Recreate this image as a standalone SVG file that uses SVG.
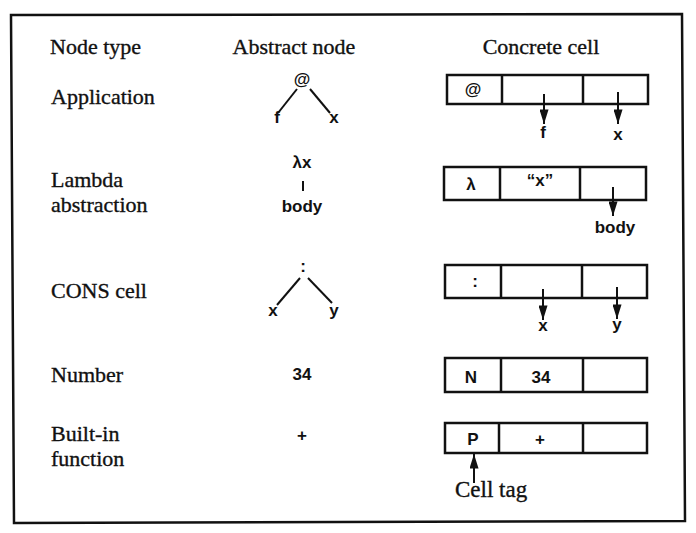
<svg xmlns="http://www.w3.org/2000/svg" width="696" height="533" viewBox="0 0 696 533">
<style>
.serif{font-family:"Liberation Serif","Times New Roman",serif;font-size:22px;fill:#111;stroke:#111;stroke-width:0.35}
.sans{font-family:"Liberation Sans",Arial,sans-serif;font-size:17px;font-weight:bold;fill:#111;text-anchor:middle}
.box{fill:none;stroke:#111;stroke-width:2.5}
.ln{stroke:#111;stroke-width:2;fill:none}
.arr{stroke:#111;stroke-width:2;fill:none;marker-end:url(#ah)}
</style>
<defs>
<marker id="ah" viewBox="0 0 16 10" refX="16" refY="5" markerWidth="15" markerHeight="9" markerUnits="userSpaceOnUse" orient="auto">
<path d="M0,0 L16,5 L0,10 Z" fill="#111"/>
</marker>
</defs>
<rect width="696" height="533" fill="#fff"/>
<path id="frame" d="M11,15 L682,14 L685,521 L14,523 Z" class="box"/>

<g id="headers">
<text class="serif" x="50" y="54">Node type</text>
<text class="serif" x="294" y="54" text-anchor="middle">Abstract node</text>
<text class="serif" x="541" y="54" text-anchor="middle">Concrete cell</text>
</g>

<g id="labels">
<text class="serif" x="51" y="104">Application</text>
<text class="serif" x="51" y="187">Lambda</text>
<text class="serif" x="51" y="212">abstraction</text>
<text class="serif" x="51" y="298">CONS cell</text>
<text class="serif" x="51" y="382">Number</text>
<text class="serif" x="51" y="441">Built-in</text>
<text class="serif" x="51" y="466">function</text>
</g>

<g id="abs-app">
<text class="sans" x="302" y="85">@</text>
<text class="sans" x="277" y="123">f</text>
<text class="sans" x="334" y="123">x</text>
</g>
<g id="abs-lambda">
<text class="sans" x="302" y="168">λx</text>
<text class="sans" x="302" y="212">body</text>
</g>
<g id="abs-cons">
<text class="sans" x="303" y="272">:</text>
<text class="sans" x="273" y="316">x</text>
<text class="sans" x="334" y="316">y</text>
</g>
<g id="abs-num"><text class="sans" x="302" y="380">34</text></g>
<g id="abs-prim"><text class="sans" x="302" y="441">+</text></g>

<g id="cell-app">
<rect class="box" x="447" y="75" width="201" height="29"/>
<line class="box" x1="502" y1="75" x2="502" y2="104"/>
<line class="box" x1="583" y1="75" x2="583" y2="104"/>
<text class="sans" x="473" y="95">@</text>
<text class="sans" x="543" y="138">f</text>
<text class="sans" x="618" y="140">x</text>
</g>
<g id="cell-lambda">
<rect class="box" x="444" y="167" width="202" height="33"/>
<line class="box" x1="500" y1="167" x2="500" y2="200"/>
<line class="box" x1="580" y1="167" x2="580" y2="200"/>
<text class="sans" x="471" y="190">λ</text>
<text class="sans" x="540" y="186">“x”</text>
<text class="sans" x="615" y="233">body</text>
</g>
<g id="cell-cons">
<rect class="box" x="445" y="265" width="202" height="33"/>
<line class="box" x1="501" y1="265" x2="501" y2="298"/>
<line class="box" x1="582" y1="265" x2="582" y2="298"/>
<text class="sans" x="475" y="287">:</text>
<text class="sans" x="543" y="331">x</text>
<text class="sans" x="617" y="330">y</text>
</g>
<g id="cell-num">
<rect class="box" x="445" y="358" width="202" height="34"/>
<line class="box" x1="501" y1="358" x2="501" y2="392"/>
<line class="box" x1="583" y1="358" x2="583" y2="392"/>
<text class="sans" x="471" y="383">N</text>
<text class="sans" x="541" y="383">34</text>
</g>
<g id="cell-prim">
<rect class="box" x="445" y="423" width="202" height="30"/>
<line class="box" x1="499" y1="423" x2="499" y2="453"/>
<line class="box" x1="583" y1="423" x2="583" y2="453"/>
<text class="sans" x="473" y="445">P</text>
<text class="sans" x="540" y="445">+</text>
<text class="serif" x="455" y="497" style="font-size:23px">Cell tag</text>
</g>

<g id="connectors">
<line class="ln" x1="297" y1="89" x2="278" y2="113"/>
<line class="ln" x1="310" y1="89" x2="330" y2="113"/>
<line class="ln" x1="303" y1="181" x2="303" y2="191"/>
<line class="ln" x1="300" y1="278" x2="277" y2="305"/>
<line class="ln" x1="308" y1="278" x2="332" y2="303"/>
<line class="arr" x1="544" y1="94" x2="544" y2="124"/>
<line class="arr" x1="618" y1="92" x2="618" y2="124"/>
<line class="arr" x1="613" y1="187" x2="613" y2="216"/>
<line class="arr" x1="543" y1="289" x2="543" y2="320"/>
<line class="arr" x1="617" y1="287" x2="617" y2="319"/>
<line class="arr" x1="474" y1="483" x2="474" y2="454"/>
</g>
</svg>
